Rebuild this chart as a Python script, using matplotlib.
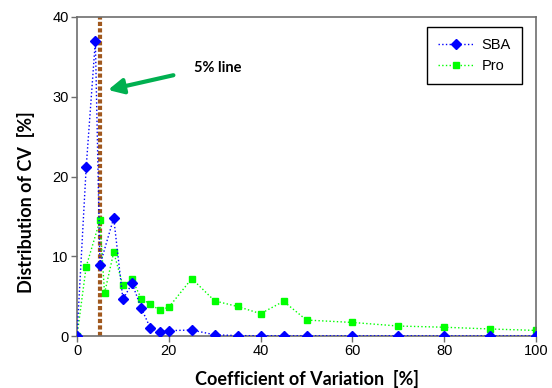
import matplotlib
matplotlib.use("Agg")
import matplotlib.pyplot as plt

# Data
sba_x = [0, 2, 4, 5, 8, 10, 12, 14, 16, 18, 20, 25, 30, 35, 40, 45, 50, 60, 70, 80, 90, 100]
sba_y = [0, 21.15, 37.0, 8.9, 14.8, 4.6, 6.6, 3.5, 0.97, 0.54, 0.67, 0.75, 0.15, 0.05, 0.03, 0.03, 0.02, 0.02, 0.02, 0.01, 0.01, 0.01]
pro_x = [0, 2, 5, 6, 8, 10, 12, 14, 16, 18, 20, 25, 30, 35, 40, 45, 50, 60, 70, 80, 90, 100]
pro_y = [0, 8.7, 14.5, 5.35, 10.5, 6.35, 7.1, 4.7, 3.97, 3.26, 3.6, 7.2, 4.4, 3.7, 2.8, 4.35, 2.0, 1.7, 1.25, 1.1, 0.88, 0.7]
line_x = 5
x_ticks = [0, 20, 40, 60, 80, 100]
y_ticks = [0, 10, 20, 30, 40]

fig = plt.figure(figsize=(5.52, 3.88), dpi=100)
ax = fig.add_axes([77/552, 52/388, 459/552, 319/388])

ax.plot([line_x, line_x], [0, 40], color='#A0581E', lw=3.0, linestyle=(0, (1, 0.55)),
        dash_capstyle='butt', zorder=1)
ax.plot(sba_x, sba_y, color='#0000FF', ls=':', lw=1.0, marker='D', markersize=5.5,
        label='SBA', zorder=3)
ax.plot(pro_x, pro_y, color='#00FF00', ls=':', lw=1.0, marker='s', markersize=5,
        label='Pro', zorder=2)

ax.set_xlim(0, 100)
ax.set_ylim(0, 40)
ax.set_xticks(x_ticks)
ax.set_yticks(y_ticks)
for s in ax.spines.values():
    s.set_color('#6e6e6e')
    s.set_linewidth(1.2)
ax.tick_params(direction='out', length=4, width=1, color='#6e6e6e', labelsize=10.5,
               pad=2)
for lab in ax.get_xticklabels() + ax.get_yticklabels():
    lab.set_fontfamily('Liberation Sans')

fig.text(307/552, 1 - 379/388, 'Coefficient of Variation  [%]', ha='center', va='center',
         fontsize=13, fontweight='bold', family='Lato')
fig.text(26/552, 1 - 202.5/388, 'Distribution of CV  [%]', ha='center', va='center',
         rotation=90, fontsize=13, fontweight='bold', family='Lato')

ax.annotate('', xy=(6.75, 30.85), xytext=(21.0, 32.7),
            arrowprops=dict(arrowstyle='-|>,head_length=0.9,head_width=0.45',
                            color='#00B050', lw=3.0, shrinkA=0, shrinkB=0))
ax.text(25.5, 33.6, '5% line', fontsize=10.5, fontweight='bold', family='Lato',
        va='center', ha='left')

leg = ax.legend(loc='upper right', bbox_to_anchor=(0.9695, 0.9687), borderaxespad=0,
                prop={'family': 'Liberation Sans', 'size': 10.5},
                fancybox=False, framealpha=1, edgecolor='black', handlelength=2.4,
                handletextpad=0.6, borderpad=0.75, labelspacing=0.5)
leg.get_frame().set_linewidth(1.0)

fig.savefig('out.png', dpi=100)
